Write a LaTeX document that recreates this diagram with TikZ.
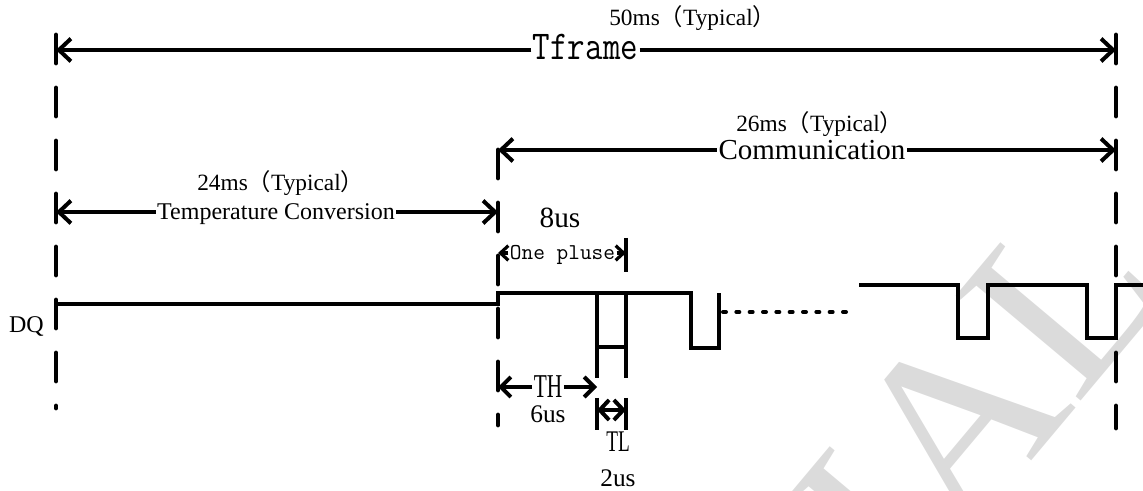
\documentclass[tikz,border=0pt]{standalone}
\usepackage{fontspec}
\setmainfont{Liberation Serif}
\newfontfamily\narrowfont[FakeStretch=0.64]{Liberation Serif}
\newfontfamily\cjk{Noto Sans CJK SC}
\usetikzlibrary{arrows.meta}
\newcommand{\typ}[1]{#1{\cjk （}Typical{\cjk ）}}
\tikzset{
  guide/.style={line width=3.6pt, line cap=round, dash pattern=on 21pt off 18.75pt},
  dim/.style={line width=3pt, -{Straight Barb[length=9pt,width=17pt]}},
  middim/.style={line width=3pt, -{Straight Barb[length=7.5pt,width=15pt]}},
  smalldim/.style={line width=2.4pt, -{Straight Barb[length=6pt,width=11pt]}},
  tick/.style={line width=3pt},
  sig/.style={line width=3pt},
  dots/.style={line width=3pt, line cap=round, dash pattern=on 2.25pt off 7.75pt},
  lbl/.style={inner sep=0pt, font=\fontsize{17.5}{20}\selectfont},
  wmark/.style={text=black!14, inner sep=0pt, rotate=50, anchor=base east,
    font=\fontsize{187}{187}\selectfont},
}
\begin{document}
\begin{tikzpicture}[x=0.75pt,y=-0.75pt]
\useasboundingbox (0,0) rectangle (1143,491);
\begin{scope}
  \clip (0,0) rectangle (1143,491);
  \node[wmark] (wm) at (1175,290) {TRIAL};
\end{scope}

% dashed guides
\coordinate (L0) at (56,35);   \coordinate (L1) at (56,408);
\coordinate (M0) at (498,150); \coordinate (M1) at (498,425);
\coordinate (R0) at (1116,35); \coordinate (R1) at (1116,428);
\draw[guide] (L0) -- (L1);
\draw[guide] (M0) -- (M1);
\draw[guide] (R0) -- (R1);

% frame
\coordinate (tf1) at (56,50); \coordinate (tf2) at (1116,50);
\node[anchor=base, inner sep=1pt, font=\ttfamily\fontsize{30.75}{32}\selectfont] (tframe) at (585.5,60) {\scalebox{0.83}[1]{Tframe}};
\node[lbl, anchor=base west] (t50) at (609,26) {\typ{50ms}};
\draw[dim] (tframe.west |- tf1) -- (tf1);
\draw[dim] (tframe.east |- tf2) -- (tf2);

% communication
\coordinate (cm1) at (498,150); \coordinate (cm2) at (1116,150);
\node[anchor=base, inner sep=1pt, font=\fontsize{21.75}{24}\selectfont] (comm) at (812,160) {Communication};
\node[lbl, anchor=base west] (t26) at (736,132) {\typ{26ms}};
\draw[dim] (comm.west |- cm1) -- (cm1);
\draw[dim] (comm.east |- cm2) -- (cm2);

% conversion
\coordinate (tc1) at (56,212); \coordinate (tc2) at (498,212);
\node[anchor=base, inner sep=1pt, font=\fontsize{18}{20}\selectfont] (conv) at (276,220) {Temperature Conversion};
\node[lbl, anchor=base west] (t24) at (197,191) {\typ{24ms}};
\draw[dim] (conv.west |- tc1) -- (tc1);
\draw[dim] (conv.east |- tc2) -- (tc2);

% one pulse
\coordinate (op1) at (498,253); \coordinate (op2) at (626,253);
\coordinate (opa) at (626,238); \coordinate (opb) at (626,272);
\node[anchor=base, font=\fontsize{22}{24}\selectfont] (t8) at (560,228) {8us};
\node[anchor=base, inner sep=1pt, font=\ttfamily\fontsize{17}{19}\selectfont] (pulse) at (562.5,260) {One pluse};
\draw[smalldim] (pulse.west |- op1) -- (op1);
\draw[smalldim] (pulse.east |- op2) -- (op2);
\draw[tick] (opa) -- (opb);

% waveform
\node[anchor=base east, inner sep=0pt, font=\fontsize{18}{20}\selectfont] (dq) at (44,333) {DQ};
\draw[sig] (56,304) -- (498,304) -- (498,293) -- (691,293) -- (691,348) -- (719,348) -- (719,293);
\draw[sig] (597,293) -- (597,378) (626,293) -- (626,378) (597,347) -- (626,347);
\draw[dots] (723,312) -- (850,312);
\draw[sig] (859,285) -- (958,285) -- (958,338) -- (988,338) -- (988,285) -- (1087,285)
  -- (1087,338) -- (1116,338) -- (1116,285) -- (1143,285);

% TH
\coordinate (th1) at (498,387); \coordinate (th2) at (597,387);
\node[anchor=base, inner sep=1pt, font=\narrowfont\fontsize{25}{27}\selectfont] (th) at (548,398) {TH};
\node[anchor=base, font=\fontsize{19}{21}\selectfont] (t6) at (548,423) {6us};
\draw[middim] (th.west |- th1) -- (th1);
\draw[middim] (th.east |- th2) -- (th2);

% TL
\coordinate (tl1) at (597,410); \coordinate (tl2) at (626,410);
\coordinate (tla) at (597,398); \coordinate (tlb) at (597,430);
\coordinate (tlc) at (626,398); \coordinate (tld) at (626,430);
\draw[tick] (tla) -- (tlb);
\draw[tick] (tlc) -- (tld);
\draw[line width=3pt, {Straight Barb[length=7pt,width=15pt]}-{Straight Barb[length=7pt,width=15pt]}] (tl1) -- (tl2);
\node[anchor=base, font=\narrowfont\fontsize{22.5}{24}\selectfont] (tl) at (618,452) {TL};
\node[anchor=base, font=\fontsize{19}{21}\selectfont] (t2) at (618,487) {2us};
\end{tikzpicture}
\end{document}
